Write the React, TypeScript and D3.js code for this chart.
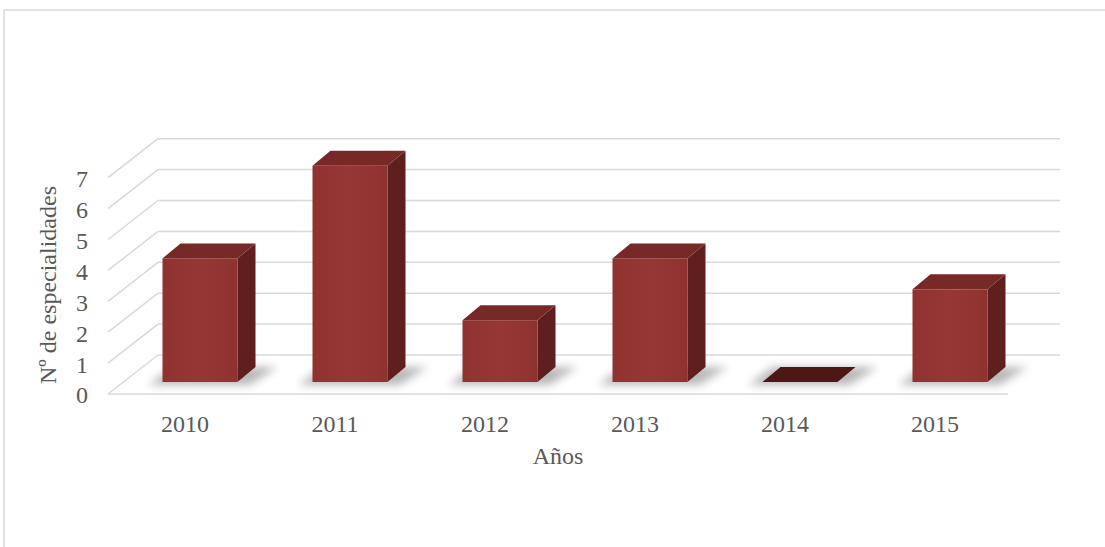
import React from "react";
import * as d3 from "d3";

const categories = ["2010", "2011", "2012", "2013", "2014", "2015"];
const values = [4, 7, 2, 4, 0, 3];
const yTicks = [0, 1, 2, 3, 4, 5, 6, 7];
const yTitle = "Nº de especialidades";
const xTitle = "Años";

const W = 1105;
const H = 547;
const FONT = "'Liberation Serif', 'Times New Roman', serif";
const TEXT = "#595959";
const GRID = "#d9d9d9";

// 3D projection offsets (depth)
const FRONT = { dx: 17, dy: -12 };
const BACK = { dx: 35, dy: -27 };
const WALL = { dx: 50, dy: -39 };

export default function App() {
  const x = d3.scaleBand<string>().domain(categories).range([108, 1008]).padding(0);
  const y = d3.scaleLinear().domain([0, 7]).range([394, 394 - 7 * 30.9]);
  const bw = x.bandwidth() * 0.5;

  const bars = categories.map((c, i) => {
    const v = values[i];
    const x0 = (x(c) as number) + (x.bandwidth() - bw) / 2;
    const x1 = x0 + bw;
    const yt = y(v);
    const yb = y(0);
    const P = (px: number, py: number, o: { dx: number; dy: number }) =>
      `${px + o.dx},${py + o.dy}`;
    const top = [P(x0, yt, FRONT), P(x0, yt, BACK), P(x1, yt, BACK), P(x1, yt, FRONT)].join(" ");
    const side = [P(x1, yt, FRONT), P(x1, yt, BACK), P(x1, yb, BACK), P(x1, yb, FRONT)].join(" ");
    const shadow = [
      `${x0 + FRONT.dx - 14},${yb + FRONT.dy + 3}`,
      `${x0 + BACK.dx - 8},${yb + BACK.dy}`,
      `${x1 + BACK.dx + 22},${yb + BACK.dy}`,
      `${x1 + FRONT.dx + 12},${yb + FRONT.dy + 3}`,
    ].join(" ");
    return { c, v, x0, x1, yt, yb, top, side, shadow };
  });

  return (
    <svg
      width={W}
      height={H}
      style={{ position: "absolute", left: 0, top: 0, background: "#fff" }}
    >
      <defs>
        <filter id="blur" x="-50%" y="-100%" width="200%" height="300%">
          <feGaussianBlur stdDeviation="4" />
        </filter>
        <linearGradient id="frontGrad" x1="0" x2="1" y1="0" y2="0">
          <stop offset="0" stopColor="#8e3230" />
          <stop offset="0.5" stopColor="#973735" />
          <stop offset="1" stopColor="#8e3230" />
        </linearGradient>
      </defs>
      <rect x={4} y={10} width={W + 20} height={H + 20} fill="#fff" stroke={GRID} strokeWidth={1.5} />

      {/* gridlines: back wall + side wall */}
      {yTicks.map((t) => (
        <g key={t}>
          <line
            x1={108 + WALL.dx}
            x2={1008 + WALL.dx + 2}
            y1={y(t) + WALL.dy}
            y2={y(t) + WALL.dy}
            stroke={GRID}
            strokeWidth={1.5}
          />
          <line
            x1={108}
            x2={108 + WALL.dx}
            y1={y(t)}
            y2={y(t) + WALL.dy}
            stroke={GRID}
            strokeWidth={1.5}
          />
        </g>
      ))}
      {/* floor front edge */}
      <line x1={108} x2={1008} y1={y(0)} y2={y(0)} stroke={GRID} strokeWidth={1.5} />

      {/* shadows */}
      {bars.map((b) => (
        <polygon key={"s" + b.c} points={b.shadow} fill="#7f7f7f" opacity={0.55} filter="url(#blur)" />
      ))}

      {/* bars */}
      {bars.map((b) =>
        b.v === 0 ? (
          <polygon key={b.c} points={b.top} fill="#4c1715" />
        ) : (
          <g key={b.c}>
            <polygon points={b.side} fill="#5e1f1e" />
            <polygon points={b.top} fill="#772927" />
            <rect
              x={b.x0 + FRONT.dx}
              y={b.yt + FRONT.dy}
              width={bw}
              height={b.yb - b.yt}
              fill="url(#frontGrad)"
            />
          </g>
        )
      )}

      {/* y tick labels */}
      {yTicks.map((t) => (
        <text
          key={"yl" + t}
          x={88}
          y={y(t) + 1}
          dy="0.35em"
          textAnchor="end"
          fontFamily={FONT}
          fontSize={24}
          fill={TEXT}
        >
          {t}
        </text>
      ))}

      {/* x tick labels */}
      {categories.map((c) => (
        <text
          key={"xl" + c}
          x={(x(c) as number) + x.bandwidth() / 2 + 2}
          y={432}
          textAnchor="middle"
          fontFamily={FONT}
          fontSize={24}
          fill={TEXT}
        >
          {c}
        </text>
      ))}

      <text x={558} y={464} textAnchor="middle" fontFamily={FONT} fontSize={24} fill={TEXT}>
        {xTitle}
      </text>
      <text
        transform="translate(56,285) rotate(-90)"
        textAnchor="middle"
        fontFamily={FONT}
        fontSize={24}
        fill={TEXT}
      >
        {yTitle}
      </text>
    </svg>
  );
}
